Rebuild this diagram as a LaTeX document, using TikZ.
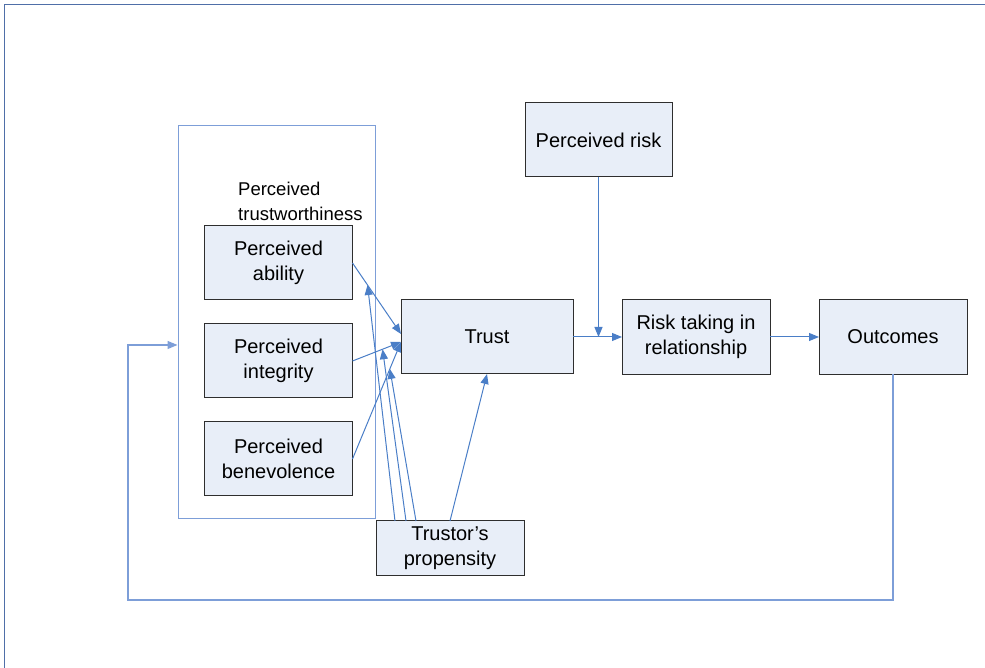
\documentclass[tikz,border=0pt]{standalone}
\usepackage{fontspec}
\setmainfont{Liberation Sans}
\usepackage{xcolor}
\definecolor{trustFill}{HTML}{E8EEF8}
\definecolor{trustEdge}{HTML}{2E2E2E}
\definecolor{trustArrow}{HTML}{4A7EC7}
\definecolor{trustPale}{HTML}{7D9ED8}
\definecolor{trustFrame}{HTML}{4F6FA8}
\usetikzlibrary{arrows.meta, positioning, calc}
\tikzset{
  %% ── Boxes ────────────────────────────────────────────────────────────
  facteur/.style  = {draw=trustEdge, line width=1pt, fill=trustFill,
                     align=center, inner sep=0pt, outer sep=0pt,
                     minimum width=148pt, minimum height=74pt,
                     font=\fontsize{20}{25}\selectfont},
  groupe/.style   = {draw=trustPale, line width=1pt, inner sep=0pt},
  %%
  %% ── Arrows ───────────────────────────────────────────────────────────
  lien/.style     = {-{Triangle[length=10pt, width=8pt]}, draw=trustArrow,
                     line width=1pt},
  retour/.style   = {lien, draw=trustPale, line width=1.2pt},
  %%
  %% ── Text ─────────────────────────────────────────────────────────────
  titreGroupe/.style = {font=\fontsize{18.5}{25}\selectfont, align=left,
                        inner sep=0pt, anchor=west},
}

\begin{document}
\begin{tikzpicture}[x=1pt, y=1pt]
\useasboundingbox (0,0) rectangle (985,668);
\draw[trustFrame, line width=1pt] (4,0) -- (4,663) -- (985,663);

%% perceived trustworthiness and its three parts
\node[groupe, minimum width=197pt, minimum height=393pt] (tw) at (276.5,345.5) {};
\node[titreGroupe] (twLabel) at (238,467) {Perceived\\trustworthiness};
\node[facteur] (ability)     at (278.5,405) {Perceived\\ability};
\node[facteur] (integrity)   at (278.5,307) {Perceived\\integrity};
\node[facteur] (benevolence) at (278.5,209) {Perceived\\benevolence};

\node[facteur, minimum width=172pt] (trust) at (487,331) {Trust};
\node[facteur, minimum width=147pt] (risk) at (598.5,528) {Perceived risk};
\node[facteur, right=49pt of trust, minimum height=75pt] (risktaking)
     {Risk taking in\\relationship};
\node[facteur, right=49pt of risktaking, minimum height=75pt] (outcomes) {Outcomes};
\node[facteur, minimum height=55pt] (propensity) at (450,119.5) {Trustor’s\\propensity};

%% factors to trust, with points where propensity meets them
\draw[lien] (ability.east) -- coordinate[pos=0.31] (mAbility)
     ([yshift=3]trust.west);
\draw[lien] (integrity.east) -- coordinate[pos=0.62] (mIntegrity)
     ([yshift=-5]trust.west);
\draw[lien] (benevolence.east) -- coordinate[pos=0.77] (mBenevolence)
     ([yshift=-5]trust.west);

\draw[lien] ([xshift=19]propensity.north west) -- (mAbility);
\draw[lien] ([xshift=30]propensity.north west) -- (mIntegrity);
\draw[lien] ([xshift=40]propensity.north west) -- (mBenevolence);
\draw[lien] (propensity.north) -- (trust.south);

\draw[lien] (trust.east) -- coordinate[pos=0.5] (mRisk) (risktaking.west);
\draw[lien] (risk.south) -- (risk.south |- mRisk);
\draw[lien] (risktaking.east) -- (outcomes.west);

%% feedback from outcomes
\coordinate (fbCorner) at (128,68);
\draw[retour] (outcomes.south) |- (fbCorner) |- ([yshift=-22.5]tw.west);

\end{tikzpicture}
\end{document}
